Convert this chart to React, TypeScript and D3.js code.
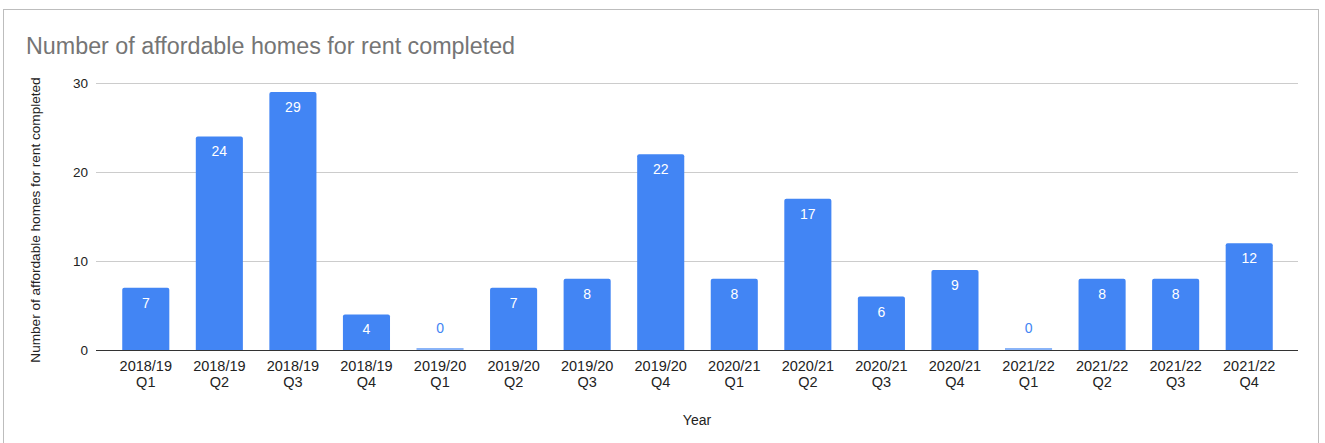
import React, { useEffect, useRef } from "react";
import * as d3 from "d3";

const categories = [
  "2018/19 Q1", "2018/19 Q2", "2018/19 Q3", "2018/19 Q4",
  "2019/20 Q1", "2019/20 Q2", "2019/20 Q3", "2019/20 Q4",
  "2020/21 Q1", "2020/21 Q2", "2020/21 Q3", "2020/21 Q4",
  "2021/22 Q1", "2021/22 Q2", "2021/22 Q3", "2021/22 Q4",
];
const values = [7, 24, 29, 4, 0, 7, 8, 22, 8, 17, 6, 9, 0, 8, 8, 12];
const yTicks = [0, 10, 20, 30];
const title = "Number of affordable homes for rent completed";
const yTitle = "Number of affordable homes for rent completed";
const xTitle = "Year";

const W = 1325;
const H = 443;
const FONT = "Arial, 'Liberation Sans', sans-serif";
const BAR = "#4285f4";

export default function App() {
  const ref = useRef<SVGSVGElement | null>(null);

  useEffect(() => {
    const svg = d3.select(ref.current);
    svg.selectAll("*").remove();

    svg.append("rect").attr("x", 0).attr("y", 0).attr("width", W).attr("height", H).attr("fill", "#fff");
    svg.append("rect")
      .attr("x", 3.5).attr("y", 9.5).attr("width", 1315).attr("height", H + 20)
      .attr("fill", "#fff").attr("stroke", "#bdbdbd").attr("stroke-width", 1);

    svg.append("text")
      .attr("x", 26).attr("y", 54)
      .attr("font-family", FONT).attr("font-size", 23.3)
      .attr("fill", "#757575")
      .text(title);

    const plotLeft = 96, plotRight = 1298;
    const y = d3.scaleLinear().domain([0, 30]).range([350, 83]);
    const x = d3.scaleBand<string>().domain(categories).range([109, 1286]).paddingInner(0.36).paddingOuter(0.18);

    const grid = svg.append("g");
    yTicks.forEach((t) => {
      if (t !== 0) {
        grid.append("line")
          .attr("x1", plotLeft).attr("x2", plotRight)
          .attr("y1", Math.round(y(t)) + 0.5).attr("y2", Math.round(y(t)) + 0.5)
          .attr("stroke", "#cccccc").attr("stroke-width", 1);
      }
      grid.append("text")
        .attr("x", 88).attr("y", y(t) + 4.5)
        .attr("text-anchor", "end")
        .attr("font-family", FONT).attr("font-size", 13.5)
        .attr("fill", "#222")
        .text(String(t));
    });

    const bars = svg.append("g");
    categories.forEach((c, i) => {
      const v = values[i];
      const bx = x(c)!;
      const bw = x.bandwidth();
      if (v > 0) {
        const top = y(v);
        bars.append("path")
          .attr("d", () => {
            const r = 2;
            const b = y(0);
            return `M${bx},${b}V${top + r}Q${bx},${top} ${bx + r},${top}H${bx + bw - r}Q${bx + bw},${top} ${bx + bw},${top + r}V${b}Z`;
          })
          .attr("fill", BAR);
        bars.append("text")
          .attr("x", bx + bw / 2).attr("y", top + 20)
          .attr("text-anchor", "middle")
          .attr("font-family", FONT).attr("font-size", 14)
          .attr("fill", "#ffffff")
          .text(String(v));
      } else {
        bars.append("rect")
          .attr("x", bx).attr("y", y(0) - 2).attr("width", bw).attr("height", 2)
          .attr("fill", "#8ab4f8");
        bars.append("text")
          .attr("x", bx + bw / 2).attr("y", y(0) - 17)
          .attr("text-anchor", "middle")
          .attr("font-family", FONT).attr("font-size", 14)
          .attr("fill", BAR)
          .text(String(v));
      }
    });

    svg.append("line")
      .attr("x1", plotLeft).attr("x2", plotRight)
      .attr("y1", y(0) + 0.5).attr("y2", y(0) + 0.5)
      .attr("stroke", "#333333").attr("stroke-width", 1);

    const xl = svg.append("g");
    categories.forEach((c) => {
      const cx = x(c)! + x.bandwidth() / 2;
      const parts = c.split(" ");
      parts.forEach((p, j) => {
        xl.append("text")
          .attr("x", cx).attr("y", 371 + j * 16)
          .attr("text-anchor", "middle")
          .attr("font-family", FONT).attr("font-size", 14.5)
          .attr("fill", "#222")
          .text(p);
      });
    });

    svg.append("text")
      .attr("x", (plotLeft + plotRight) / 2).attr("y", 425)
      .attr("text-anchor", "middle")
      .attr("font-family", FONT).attr("font-size", 14)
      .attr("fill", "#222")
      .text(xTitle);

    svg.append("text")
      .attr("transform", `translate(40,${(78 + 362) / 2}) rotate(-90)`)
      .attr("text-anchor", "middle")
      .attr("font-family", FONT).attr("font-size", 13.6)
      .attr("fill", "#222")
      .text(yTitle);
  }, []);

  return (
    <svg
      ref={ref}
      width={W}
      height={H}
      style={{ position: "absolute", left: 0, top: 0, display: "block" }}
    />
  );
}
